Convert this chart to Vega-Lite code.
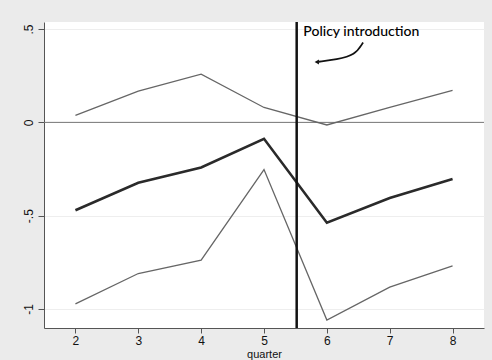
{
  "$schema": "https://vega.github.io/schema/vega-lite/v6.json",
  "autosize": {"type": "none"},
  "padding": {"left": 44, "top": 22, "right": 8, "bottom": 32},
  "width": 440,
  "height": 306,
  "background": "#ebebeb",
  "config": {
    "view": {"fill": "white", "stroke": null},
    "axis": {"labelFont": "Liberation Sans", "titleFont": "Liberation Sans", "labelColor": "#111", "titleColor": "#111", "domainColor": "#555", "tickColor": "#555"}
  },
  "datasets": {
    "lines": [
      {"quarter": 2, "value": 0.038, "series": "upper"},
      {"quarter": 3, "value": 0.167, "series": "upper"},
      {"quarter": 4, "value": 0.258, "series": "upper"},
      {"quarter": 5, "value": 0.08, "series": "upper"},
      {"quarter": 6, "value": -0.014, "series": "upper"},
      {"quarter": 7, "value": 0.08, "series": "upper"},
      {"quarter": 8, "value": 0.172, "series": "upper"},
      {"quarter": 2, "value": -0.471, "series": "estimate"},
      {"quarter": 3, "value": -0.324, "series": "estimate"},
      {"quarter": 4, "value": -0.242, "series": "estimate"},
      {"quarter": 5, "value": -0.088, "series": "estimate"},
      {"quarter": 6, "value": -0.538, "series": "estimate"},
      {"quarter": 7, "value": -0.405, "series": "estimate"},
      {"quarter": 8, "value": -0.304, "series": "estimate"},
      {"quarter": 2, "value": -0.973, "series": "lower"},
      {"quarter": 3, "value": -0.81, "series": "lower"},
      {"quarter": 4, "value": -0.738, "series": "lower"},
      {"quarter": 5, "value": -0.253, "series": "lower"},
      {"quarter": 6, "value": -1.059, "series": "lower"},
      {"quarter": 7, "value": -0.883, "series": "lower"},
      {"quarter": 8, "value": -0.769, "series": "lower"}
    ],
    "arrow": [
      {"quarter": 6.576, "value": 0.428, "order": 1},
      {"quarter": 6.45, "value": 0.36, "order": 2},
      {"quarter": 6.154, "value": 0.337, "order": 3},
      {"quarter": 5.87, "value": 0.325, "order": 4}
    ]
  },
  "layer": [
    {
      "data": {"values": [{"v": 0}]},
      "mark": {"type": "rule", "color": "#777", "strokeWidth": 1},
      "encoding": {"y": {"field": "v", "type": "quantitative"}}
    },
    {
      "data": {"name": "lines"},
      "transform": [{"filter": "datum.series !== 'estimate'"}],
      "mark": {"type": "line", "color": "#666666", "strokeWidth": 1.3},
      "encoding": {
        "x": {
          "field": "quarter", "type": "quantitative",
          "scale": {"domain": [1.5, 8.5], "nice": false, "zero": false},
          "axis": {"values": [2, 3, 4, 5, 6, 7, 8], "format": "d", "title": "quarter", "titleFontWeight": "normal", "grid": false, "labelFontSize": 12, "titleFontSize": 11, "titlePadding": 2, "tickSize": 5, "labelPadding": 2}
        },
        "y": {
          "field": "value", "type": "quantitative",
          "scale": {"domain": [-1.102, 0.538], "nice": false, "zero": false},
          "axis": {"values": [-1, -0.5, 0, 0.5], "title": null, "grid": true, "gridColor": "#eeeeee", "labelAngle": -90, "labelAlign": "center", "labelBaseline": "bottom", "labelFontSize": 12, "tickSize": 6, "labelPadding": 3, "labelExpr": "replace(toString(datum.value), '0.', '.')"}
        },
        "detail": {"field": "series"}
      }
    },
    {
      "data": {"name": "lines"},
      "transform": [{"filter": "datum.series === 'estimate'"}],
      "mark": {"type": "line", "color": "#2a2a2a", "strokeWidth": 2.6},
      "encoding": {
        "x": {"field": "quarter", "type": "quantitative"},
        "y": {"field": "value", "type": "quantitative"}
      }
    },
    {
      "data": {"values": [{"q": 5.52}]},
      "mark": {"type": "rule", "color": "#111", "strokeWidth": 2.5},
      "encoding": {"x": {"field": "q", "type": "quantitative"}}
    },
    {
      "data": {"values": [{"q": 6.548, "v": 0.484, "label": "Policy introduction"}]},
      "mark": {"type": "text", "font": "Lato", "fontSize": 14, "fontWeight": 500, "color": "#000", "align": "center", "baseline": "middle"},
      "encoding": {
        "x": {"field": "q", "type": "quantitative"},
        "y": {"field": "v", "type": "quantitative"},
        "text": {"field": "label"}
      }
    },
    {
      "data": {"name": "arrow"},
      "mark": {"type": "line", "interpolate": "basis", "color": "#111", "strokeWidth": 1.8},
      "encoding": {
        "x": {"field": "quarter", "type": "quantitative"},
        "y": {"field": "value", "type": "quantitative"},
        "order": {"field": "order"}
      }
    },
    {
      "data": {"values": [{"q": 5.84, "v": 0.324}]},
      "mark": {"type": "point", "shape": "triangle-left", "filled": true, "color": "#111", "size": 25, "opacity": 1},
      "encoding": {
        "x": {"field": "q", "type": "quantitative"},
        "y": {"field": "v", "type": "quantitative"}
      }
    }
  ]
}
